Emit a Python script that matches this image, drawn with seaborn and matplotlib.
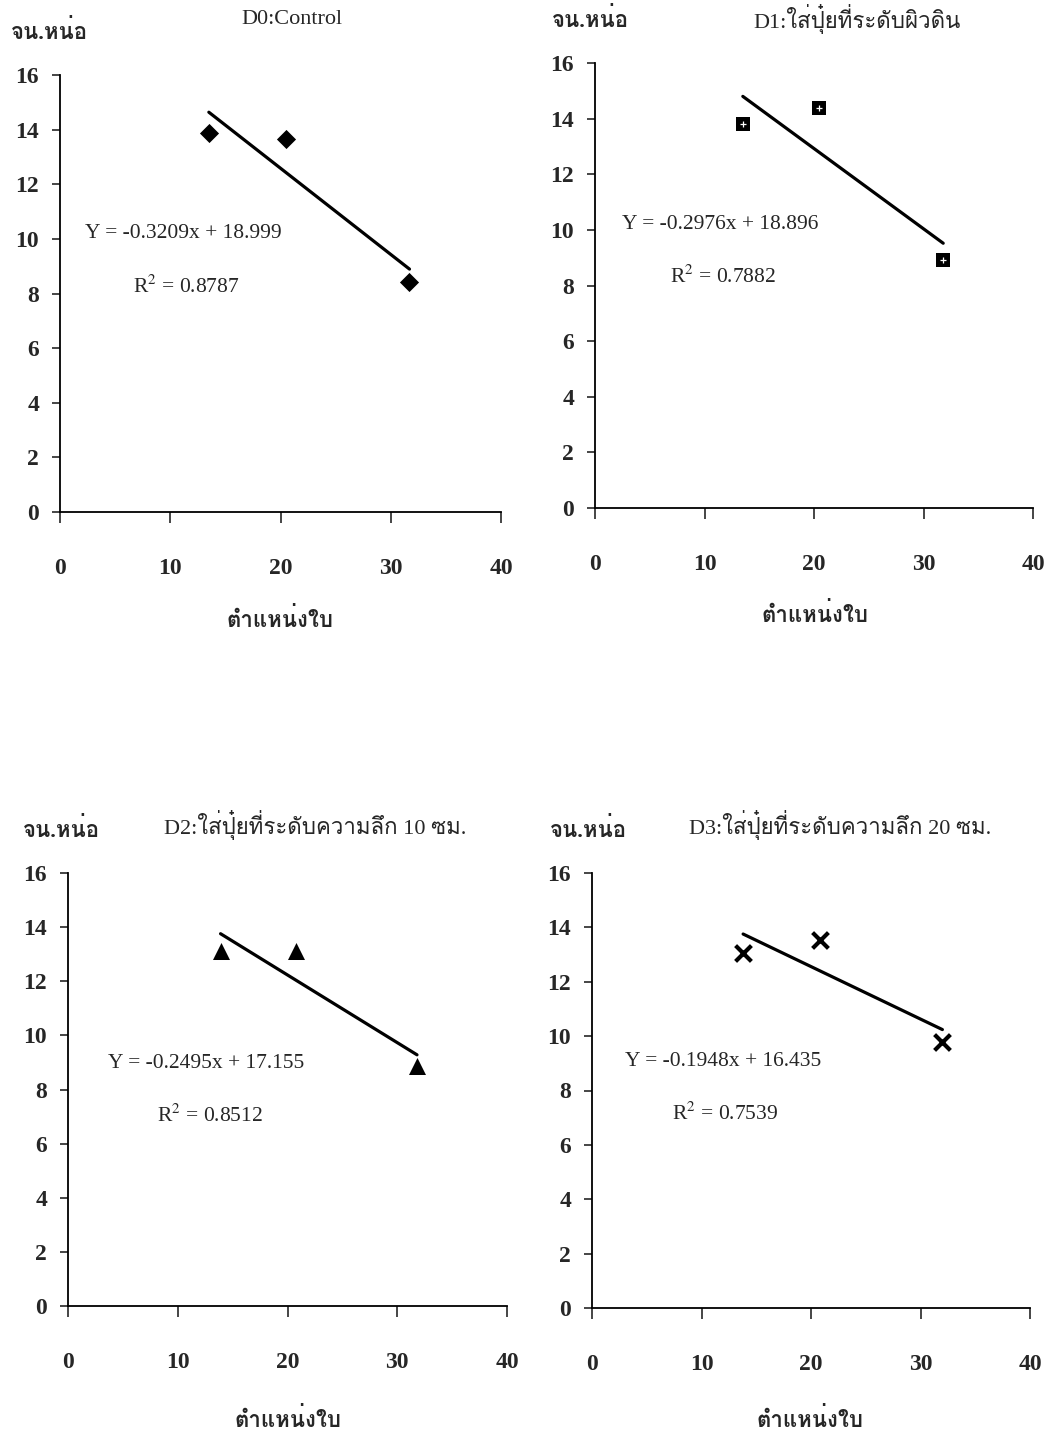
import matplotlib
import matplotlib.pyplot as plt
import numpy as np
import seaborn as sns
from matplotlib import font_manager, ft2font

matplotlib.use('Agg')

# data (leaf position vs number of shoots)
leaf_pos_d0 = [13.5, 20.5, 31.7]
shoots_d0 = [13.88, 13.66, 8.42]
leaf_pos_d1 = [13.5, 20.5, 31.8]
shoots_d1 = [13.8, 14.4, 8.9]
leaf_pos_d2 = [13.9, 20.8, 31.8]
shoots_d2 = [13.1, 13.1, 8.87]
leaf_pos_d3 = [13.8, 20.8, 32.0]
shoots_d3 = [13.05, 13.55, 9.8]

titles = ['D0:Control', 'D1:ใส่ปุ๋ยที่ระดับผิวดิน',
          'D2:ใส่ปุ๋ยที่ระดับความลึก 10 ซม.', 'D3:ใส่ปุ๋ยที่ระดับความลึก 20 ซม.']
equations = ['Y = -0.3209x + 18.999', 'Y = -0.2976x + 18.896',
             'Y = -0.2495x + 17.155', 'Y = -0.1948x + 16.435']
r_squared = ['0.8787', '0.7882', '0.8512', '0.7539']
y_label = 'จน.หน่อ'
x_label = 'ตำแหน่งใบ'
y_ticks = [0, 2, 4, 6, 8, 10, 12, 14, 16]
x_ticks = [0, 10, 20, 30, 40]


def find_thai_font():
    # pick any installed font that has Thai glyphs
    for f in font_manager.fontManager.ttflist:
        try:
            ft = ft2font.FT2Font(f.fname)
            if ft.get_char_index(ord('ต')) and ft.get_char_index(ord('ใ')):
                return f.name
        except Exception:
            pass
    return 'DejaVu Sans'


sns.set_style('white')
thai_font = find_thai_font()
serif_fam = ['Liberation Serif', thai_font, 'DejaVu Sans']
plt.rcParams['font.family'] = serif_fam
plt.rcParams['mathtext.fontset'] = 'stix'

W, H = 1055, 1437
fig = plt.figure(figsize=(W / 100, H / 100), dpi=100)
fig.patch.set_facecolor('white')

# axes boxes in pixels: left, top, right, bottom
boxes = [(60, 75, 501, 512), (595, 63, 1033, 508),
         (68, 873, 507, 1306), (592, 873, 1030, 1308)]
markers = ['D', 's', '^', 'x']
sizes = [95, 110, 150, 130]
title_xy = [(0.526, 1.126), (0.598, 1.1), (0.563, 1.111), (0.566, 1.11)]
ylab_xy = [(-0.023, 1.098), (-0.011, 1.097), (-0.014, 1.099), (-0.009, 1.099)]
eq_xy = [(0.057, 0.638), (0.062, 0.636), (0.091, 0.561), (0.075, 0.566)]
r2_xy = [(0.166, 0.515), (0.171, 0.519), (0.203, 0.439), (0.183, 0.446)]
xlab_xy = [(0.5, -0.247), (0.502, -0.24), (0.5, -0.263), (0.497, -0.257)]

series = [(leaf_pos_d0, shoots_d0), (leaf_pos_d1, shoots_d1),
          (leaf_pos_d2, shoots_d2), (leaf_pos_d3, shoots_d3)]

for i, (xs, ys) in enumerate(series):
    l, t, r, b = boxes[i]
    ax = fig.add_axes([l / W, 1 - b / H, (r - l) / W, (b - t) / H])

    scatter_kws = {'s': sizes[i], 'color': 'black', 'alpha': 1, 'zorder': 3}
    if markers[i] == 'x':
        scatter_kws['linewidths'] = 3
    else:
        scatter_kws['linewidths'] = 0
    sns.regplot(x=np.array(xs), y=np.array(ys), ax=ax, ci=None,
                marker=markers[i], scatter_kws=scatter_kws,
                line_kws={'color': 'black', 'lw': 2.3})
    if markers[i] == 's':
        # small white dots pattern inside the squares
        ax.scatter(xs, ys, marker='+', s=14, color='white', linewidths=0.9, zorder=4)

    ax.set_xlim(0, 40)
    ax.set_ylim(0, 16)
    ax.set_xticks(x_ticks)
    ax.set_yticks(y_ticks)
    ax.set_xlabel('')
    ax.set_ylabel('')
    sns.despine(ax=ax)
    for side in ['left', 'bottom']:
        ax.spines[side].set_color('black')
        ax.spines[side].set_linewidth(1.3)
    ax.tick_params(axis='x', direction='out', length=8, width=1.2, pad=25,
                   labelsize=17, bottom=True)
    ax.tick_params(axis='y', direction='out', length=6, width=1.2, pad=9,
                   labelsize=17, left=True)
    for lab in ax.get_xticklabels() + ax.get_yticklabels():
        lab.set_fontweight('bold')

    ax.text(*title_xy[i], titles[i], transform=ax.transAxes, ha='center',
            va='center', fontsize=16)
    ax.text(*ylab_xy[i], y_label, transform=ax.transAxes, ha='center',
            va='center', fontsize=16, fontweight='bold')
    ax.text(*eq_xy[i], equations[i], transform=ax.transAxes, ha='left',
            va='center', fontsize=15.5)
    ax.text(*r2_xy[i], 'R$^2$ = ' + r_squared[i], transform=ax.transAxes,
            ha='left', va='center', fontsize=15.5)
    ax.text(*xlab_xy[i], x_label, transform=ax.transAxes, ha='center',
            va='center', fontsize=16, fontweight='bold')

plt.savefig('out.png', dpi=100)
plt.close()
